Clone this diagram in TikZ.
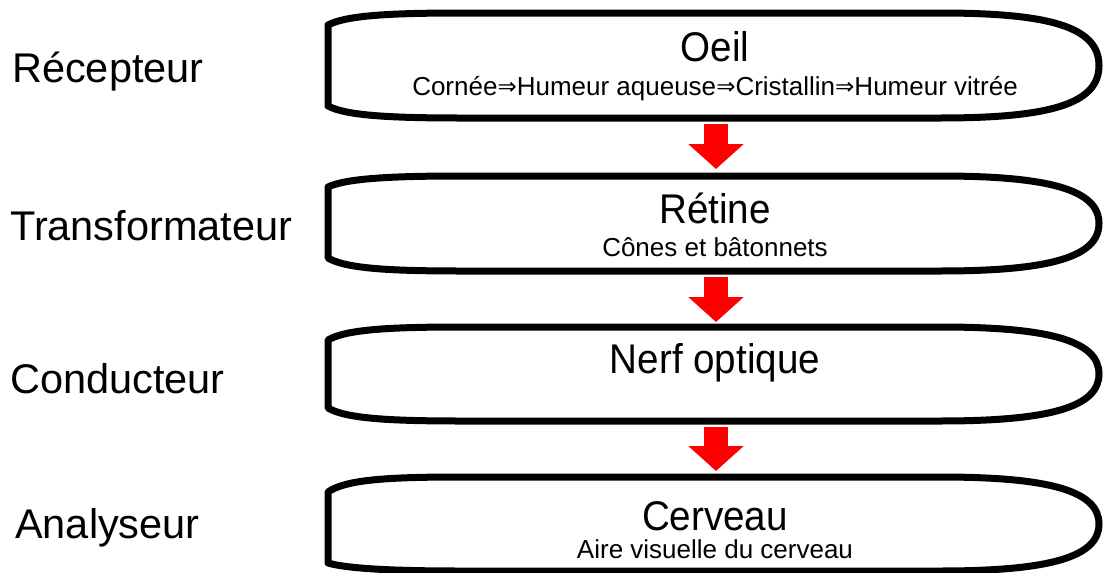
\documentclass[tikz,border=0pt]{standalone}
\usepackage{fontspec}
\setmainfont{Liberation Sans}
\newfontfamily\titlefont[FakeStretch=0.93]{Liberation Sans}
\newfontfamily\symfont{DejaVu Sans}
\usetikzlibrary{arrows.meta}
\newcommand\drawflatbox[4]{%
  \draw[boxline] (328,#3) -- (328,#2)
    .. controls (345,#1+3) and (385,#1) .. (460,#1) -- (940,#1)
    .. controls (1050,#1) and (1099,#1+14) .. (1099,{(#1+#4)/2})
    .. controls (1099,#4-14) and (1050,#4) .. (940,#4) -- (460,#4)
    .. controls (385,#4) and (345,#4-3) .. cycle;}
\newcommand\impl{{\symfont\fontsize{23}{26}\selectfont\raisebox{0.5pt}{⇒}}}
\begin{document}
\begin{tikzpicture}[x=1pt,y=-1pt,
  boxline/.style={line width=7pt, black, line join=round},
  sidelabel/.style={anchor=base west, inner sep=0pt, font=\fontsize{41.5}{48}\selectfont},
  boxtitle/.style={anchor=base, inner sep=0pt, font=\titlefont\fontsize{41.5}{48}\selectfont},
  boxsub/.style={anchor=base, inner sep=0pt, font=\fontsize{26}{30}\selectfont},
  redarrow/.style={line width=24pt, color=red, -{Triangle[width=54pt,length=25pt]}}]
\useasboundingbox (0,0) rectangle (1104,573);
\fill[white] (0,0) rectangle (1104,573);

\drawflatbox{13}{25}{106}{118}
\drawflatbox{176}{187}{258}{271}
\drawflatbox{327}{340}{408}{421}
\drawflatbox{477}{492}{563}{571}

\node[sidelabel] (rec) at (12,82) {Récepteur};
\node[sidelabel] (tra) at (10,240) {Transformateur};
\node[sidelabel] (con) at (10,393) {Conducteur};
\node[sidelabel] (ana) at (15,538) {Analyseur};

\node[boxtitle] (oeil) at (715,61) {Oeil};
\node[boxsub] (oeilsub) at (715,95) {Cornée\impl Humeur aqueuse\impl Cristallin\impl Humeur vitrée};
\node[boxtitle] (ret) at (715,223) {Rétine};
\node[boxsub] (retsub) at (715,256) {Cônes et bâtonnets};
\node[boxtitle] (nerf) at (715,373) {Nerf optique};
\node[boxtitle] (cer) at (715,530) {Cerveau};
\node[boxsub] (cersub) at (715,558) {Aire visuelle du cerveau};

\coordinate (a1s) at (716,124);
\coordinate (a1e) at (716,169);
\coordinate (a2s) at (716,277);
\coordinate (a2e) at (716,322);
\coordinate (a3s) at (716,427);
\coordinate (a3e) at (716,471);
\draw[redarrow] (a1s) -- (a1e);
\draw[redarrow] (a2s) -- (a2e);
\draw[redarrow] (a3s) -- (a3e);
\end{tikzpicture}
\end{document}
